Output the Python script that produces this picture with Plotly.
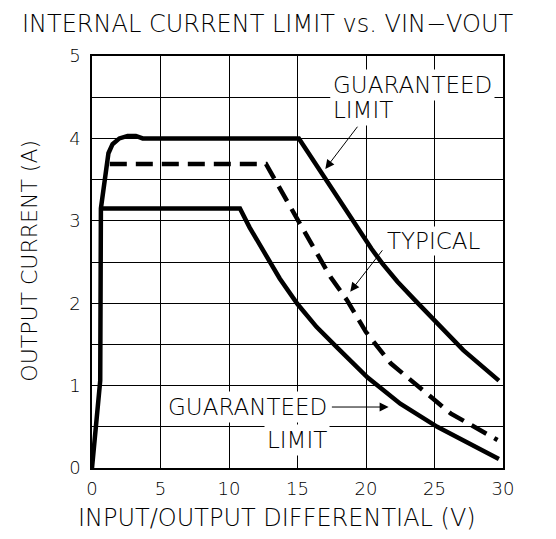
import plotly.graph_objects as go

# Guaranteed limit (upper) curve
upper_v = [0, 0.6, 0.65, 1.2, 1.5, 2.0, 2.6, 3.2, 3.7, 15.1, 17.0, 19.0, 20.4, 21.2, 22.3, 23.5, 25.1, 27.1, 29.7]
upper_i = [0, 1.06, 3.15, 3.82, 3.93, 4.0, 4.03, 4.03, 4.0, 4.0, 3.52, 3.01, 2.66, 2.48, 2.26, 2.05, 1.77, 1.43, 1.06]

# Guaranteed limit (lower) curve
lower_v = [0.65, 10.8, 11.5, 12.3, 13.7, 15.0, 16.4, 17.9, 20.1, 22.5, 25.2, 29.7]
lower_i = [3.15, 3.15, 2.92, 2.69, 2.30, 1.99, 1.71, 1.46, 1.10, 0.78, 0.50, 0.11]

# Typical curve (dashed)
typ_v = [1.3, 12.7, 14.2, 15.1, 17.4, 18.6, 20.0, 21.8, 24.0, 26.2, 29.6]
typ_i = [3.69, 3.69, 3.25, 2.99, 2.32, 2.04, 1.65, 1.27, 0.96, 0.66, 0.34]

x_ticks = [0, 5, 10, 15, 20, 25, 30]
y_ticks = [0, 1, 2, 3, 4, 5]

FONT = "DejaVu Sans"

fig = go.Figure()
fig.add_trace(go.Scatter(x=upper_v, y=upper_i, mode="lines",
                         line=dict(color="black", width=4.5), hoverinfo="skip"))
fig.add_trace(go.Scatter(x=lower_v, y=lower_i, mode="lines",
                         line=dict(color="black", width=4.5), hoverinfo="skip"))
fig.add_trace(go.Scatter(x=typ_v, y=typ_i, mode="lines",
                         line=dict(color="black", width=4.5, dash="17px,9px"), hoverinfo="skip"))

def f(size):
    return dict(family=FONT, size=size, color="black", weight=300)

annos = []
# Title and axis titles
annos.append(dict(text="INTERNAL CURRENT LIMIT vs. VIN\u2212VOUT", xref="paper", yref="paper",
                  x=0.4265, y=1.077, showarrow=False, font=f(24),
                  xanchor="center", yanchor="middle"))
annos.append(dict(text="INPUT/OUTPUT DIFFERENTIAL (V)", xref="paper", yref="paper",
                  x=0.45, y=-0.121, showarrow=False, font=f(24),
                  xanchor="center", yanchor="middle"))
annos.append(dict(text="OUTPUT CURRENT (A)", xref="paper", yref="paper",
                  x=-0.1525, y=0.504, showarrow=False, textangle=-90,
                  font=f(22), xanchor="center", yanchor="middle"))

lab_font = f(23)
# Upper guaranteed label
annos.append(dict(text="GUARANTEED", x=17.4, y=4.65, xref="x", yref="y", showarrow=False,
                  xanchor="left", yanchor="middle", font=lab_font, bgcolor="white", borderpad=2))
annos.append(dict(text="LIMIT", x=17.4, y=4.34, xref="x", yref="y", showarrow=False,
                  xanchor="left", yanchor="middle", font=lab_font, bgcolor="white", borderpad=2))
annos.append(dict(text="", x=17.03, y=3.63, ax=19.46, ay=4.16, xref="x", yref="y",
                  axref="x", ayref="y", showarrow=True, arrowhead=2, arrowsize=1.8,
                  arrowwidth=1, arrowcolor="black"))
# Typical label
annos.append(dict(text="TYPICAL", x=21.4, y=2.76, xref="x", yref="y", showarrow=False,
                  xanchor="left", yanchor="middle", font=lab_font, bgcolor="white", borderpad=1))
annos.append(dict(text="", x=18.85, y=2.14, ax=21.28, ay=2.66, xref="x", yref="y",
                  axref="x", ayref="y", showarrow=True, arrowhead=2, arrowsize=1.8,
                  arrowwidth=1, arrowcolor="black"))
# Lower guaranteed label
annos.append(dict(text="GUARANTEED", x=17.4, y=0.74, xref="x", yref="y", showarrow=False,
                  xanchor="right", yanchor="middle", font=lab_font, bgcolor="white", borderpad=2))
annos.append(dict(text="LIMIT", x=17.4, y=0.34, xref="x", yref="y", showarrow=False,
                  xanchor="right", yanchor="middle", font=lab_font, bgcolor="white", borderpad=2))
annos.append(dict(text="", x=21.65, y=0.74, ax=17.4, ay=0.74, xref="x", yref="y",
                  axref="x", ayref="y", showarrow=True, arrowhead=2, arrowsize=1.8,
                  arrowwidth=1, arrowcolor="black"))

fig.update_layout(
    width=540, height=523,
    margin=dict(l=84, r=45, t=48, b=63),
    paper_bgcolor="white", plot_bgcolor="white",
    showlegend=False,
    annotations=annos,
    xaxis=dict(range=[0, 30], tickvals=x_ticks, ticktext=[str(v) for v in x_ticks],
               showgrid=True, gridcolor="black", gridwidth=1,
               showline=True, linecolor="black", linewidth=1.5, mirror=True,
               ticks="", ticklabelstandoff=4, zeroline=False,
               tickfont=f(18)),
    yaxis=dict(range=[0, 5], tickvals=y_ticks, ticktext=[str(v) for v in y_ticks],
               showgrid=True, gridcolor="black", gridwidth=1,
               minor=dict(dtick=0.5, showgrid=True, gridcolor="black", gridwidth=1),
               showline=True, linecolor="black", linewidth=1.5, mirror=True,
               ticks="", ticklabelstandoff=6, zeroline=False,
               tickfont=f(18)),
)

fig.write_html("out.html")
